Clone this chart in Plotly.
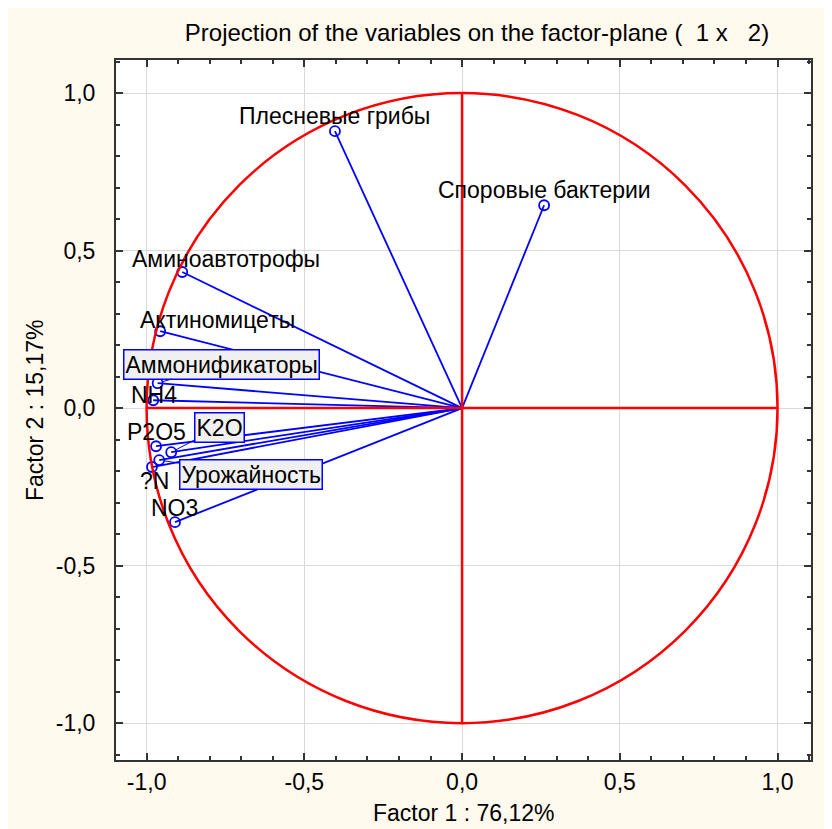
import plotly.graph_objects as go

# ---- data ----
names = ["Плесневые грибы", "Споровые бактерии", "Аминоавтотрофы", "Актиномицеты",
         "Аммонификаторы", "NH4", "P2O5", "K2O", "Урожайность", "?N", "NO3"]
factor1 = [-0.403, 0.260, -0.887, -0.957, -0.965, -0.979, -0.970, -0.922, -0.960, -0.983, -0.910]
factor2 = [0.879, 0.644, 0.432, 0.244, 0.079, 0.025, -0.121, -0.140, -0.165, -0.187, -0.362]
tick_vals = [-1.0, -0.5, 0.0, 0.5, 1.0]
tick_text = ["-1,0", "-0,5", "0,0", "0,5", "1,0"]
title_text = "Projection of the variables on the factor-plane (  1 x   2)"
xlab = "Factor 1 : 76,12%"
ylab = "Factor 2 : 15,17%"

# label offsets (pixels), boxed flag
label_style = {
    "Плесневые грибы": (0, 15, False),
    "Споровые бактерии": (0, 15, False),
    "Аминоавтотрофы": (44, 13, False),
    "Актиномицеты": (57, 11, False),
    "Аммонификаторы": (64, 19, True),
    "NH4": (1, 5, False),
    "P2O5": (0, 14, False),
    "K2O": (48, 25, True),
    "Урожайность": (92, -14, True),
    "?N": (3, -14, False),
    "NO3": (0, 14, False),
}

BLUE = "#0000FF"
RED = "#FF0000"
FRAME = "#333333"
LABEL_FONT = "Liberation Sans, Arial, sans-serif"
NARROW_FONT = "Liberation Sans Narrow, Arial Narrow, Liberation Sans, sans-serif"

fig = go.Figure()

# vectors from origin
lx, ly = [], []
for a, b in zip(factor1, factor2):
    lx += [0, a, None]
    ly += [0, b, None]
fig.add_trace(go.Scatter(x=lx, y=ly, mode="lines", line=dict(color=BLUE, width=1.8),
                         hoverinfo="skip", showlegend=False))
fig.add_trace(go.Scatter(x=factor1, y=factor2, mode="markers", text=names,
                         marker=dict(symbol="circle-open", size=10, color=BLUE, line=dict(width=1.8, color=BLUE)),
                         showlegend=False))

# unit circle and axes
fig.add_shape(type="circle", x0=-1, y0=-1, x1=1, y1=1, line=dict(color=RED, width=2.5))
fig.add_shape(type="line", x0=-1, y0=0, x1=1, y1=0, line=dict(color=RED, width=2.5))
fig.add_shape(type="line", x0=0, y0=-1, x1=0, y1=1, line=dict(color=RED, width=2.5))

for n, a, b in zip(names, factor1, factor2):
    dx, dy, boxed = label_style[n]
    if boxed:
        fig.add_annotation(x=a, y=b, ax=dx, ay=-dy, axref="pixel", ayref="pixel", text=n,
                           showarrow=True, arrowhead=0, arrowwidth=1, arrowcolor=BLUE, standoff=5,
                           font=dict(family=LABEL_FONT, size=23, color="black"),
                           bgcolor="#F0F0F0", bordercolor=BLUE, borderwidth=1.5, borderpad=1)
    else:
        fig.add_annotation(x=a, y=b, xshift=dx, yshift=dy, text=n, showarrow=False,
                           font=dict(family=LABEL_FONT, size=23, color="black"))

axis_common = dict(
    tickvals=tick_vals, ticktext=tick_text, ticks="inside", ticklen=7, tickwidth=2, tickcolor=FRAME,
    showline=True, linecolor=FRAME, linewidth=2, mirror="ticks",
    showgrid=True, gridcolor="#DADADA", gridwidth=1, zeroline=False,
    minor=dict(dtick=0.1, tick0=0, ticks="inside", ticklen=4, tickwidth=1.5, tickcolor=FRAME, showgrid=False),
    tickfont=dict(family=NARROW_FONT, size=23, color="black"),
)
fig.update_xaxes(range=[-1.097, 1.106], ticklabelstandoff=0, **axis_common)
fig.update_yaxes(range=[-1.117, 1.105], ticklabelstandoff=14, **axis_common)

fig.add_annotation(xref="paper", yref="paper", x=0.5, y=-0.075, yanchor="middle", text=xlab,
                   showarrow=False, font=dict(family=NARROW_FONT, size=23, color="black"))
fig.add_annotation(xref="paper", yref="paper", x=-0.1165, y=0.5, xanchor="center", text=ylab,
                   textangle=-90, showarrow=False, font=dict(family=NARROW_FONT, size=23, color="black"))

fig.update_layout(
    width=832, height=829,
    margin=dict(l=108, r=29, t=52, b=77),
    paper_bgcolor="#FFF9EE", plot_bgcolor="white",
    title=dict(text=title_text, x=469 / 832, xanchor="center", y=1 - 25 / 829, yanchor="middle",
               font=dict(family=NARROW_FONT, size=24, color="black")),
    showlegend=False,
)

fig.write_html("out.html")
